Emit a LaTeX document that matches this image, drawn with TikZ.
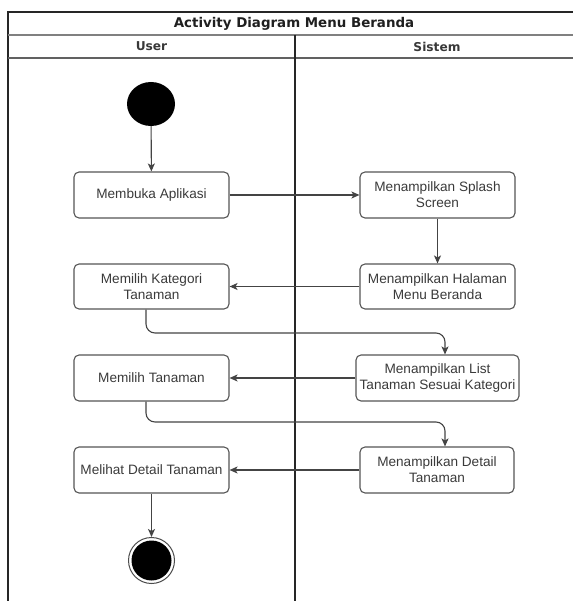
\documentclass[tikz,border=0pt]{standalone}
\usepackage{fontspec}
\setmainfont{Liberation Sans}
\newfontfamily\headfont{DejaVu Sans}
\usetikzlibrary{arrows.meta,shapes.geometric}
\definecolor{linegray}{HTML}{444444}
\definecolor{boxgray}{HTML}{555555}
\definecolor{txtgray}{HTML}{3A3A3A}
\begin{document}
\begin{tikzpicture}[x=1pt,y=-1pt,
  frame/.style={draw=black!85, line width=1.3pt},
  actbox/.style={draw=boxgray, line width=1.1pt, rounded corners=5pt,
    align=center, text=txtgray, inner sep=1pt,
    font=\fontsize{13.6}{16}\selectfont},
  arr/.style={draw=linegray, line width=1.1pt,
    -{Stealth[length=8pt,width=7pt,inset=2pt]}},
  headtxt/.style={font=\headfont\bfseries\fontsize{12.2}{14}\selectfont, text=black!78}]
\useasboundingbox (0,0) rectangle (572,601);

% swimlane frame
\draw[frame] (8,601) -- (8,12) -- (590,12);
\draw[frame, draw=black!50, line width=1.6pt] (8,35) -- (590,35);
\draw[frame, draw=black!62] (8,58) -- (590,58);
\draw[frame] (295,35) -- (295,601);
\node[headtxt, font=\headfont\bfseries\fontsize{13.4}{15}\selectfont, text=black!88] (title) at (294,23.5) {Activity Diagram Menu Beranda};
\node[headtxt] (laneU) at (151.5,46.5) {User};
\node[headtxt] (laneS) at (437,46.5) {Sistem};

% initial and final nodes
\node[ellipse, fill=black, minimum width=48pt, minimum height=44pt, inner sep=0pt] (start) at (151,104) {};
\node[circle, draw=black!70, line width=1pt, minimum size=46pt, inner sep=0pt] (endo) at (151.5,560.5) {};
\node[circle, fill=black, minimum size=40pt, inner sep=0pt] (endi) at (151.5,560.5) {};

% activities
\node[actbox, minimum width=155pt, minimum height=46pt] (b1) at (151.5,195) {Membuka Aplikasi};
\node[actbox, minimum width=155pt, minimum height=46pt] (b2) at (437.5,195) {Menampilkan Splash\\Screen};
\node[actbox, minimum width=155pt, minimum height=45pt] (b3) at (437.5,286.5) {Menampilkan Halaman\\Menu Beranda};
\node[actbox, minimum width=155pt, minimum height=45pt] (b4) at (151.5,286.5) {Memilih Kategori\\Tanaman};
\node[actbox, minimum width=155pt, minimum height=46pt] (b5) at (151.5,378) {Memilih Tanaman};
\node[actbox, minimum width=163pt, minimum height=46pt] (b6) at (437.5,378) {Menampilkan List\\Tanaman Sesuai Kategori};
\node[actbox, minimum width=155pt, minimum height=46pt] (b7) at (151.5,470) {Melihat Detail Tanaman};
\node[actbox, minimum width=154pt, minimum height=46pt] (b8) at (437,470) {Menampilkan Detail\\Tanaman};

\coordinate (k1) at (300,333);
\coordinate (k2) at (300,422);

% flow
\draw[arr] (start) -- (b1);
\draw[arr] (b1) -- (b2);
\draw[arr] (b2) -- (b3);
\draw[arr] (b3) -- (b4);
\draw[arr, rounded corners=9pt] ([xshift=-5.5pt]b4.south) |- (k1) -| ([xshift=7.5pt]b6.north);
\draw[arr] (b6) -- (b5);
\draw[arr, rounded corners=9pt] ([xshift=-5.5pt]b5.south) |- (k2) -| ([xshift=8pt]b8.north);
\draw[arr] (b8) -- (b7);
\draw[arr] (b7.south -| endo) -- (endo);
\end{tikzpicture}
\end{document}
